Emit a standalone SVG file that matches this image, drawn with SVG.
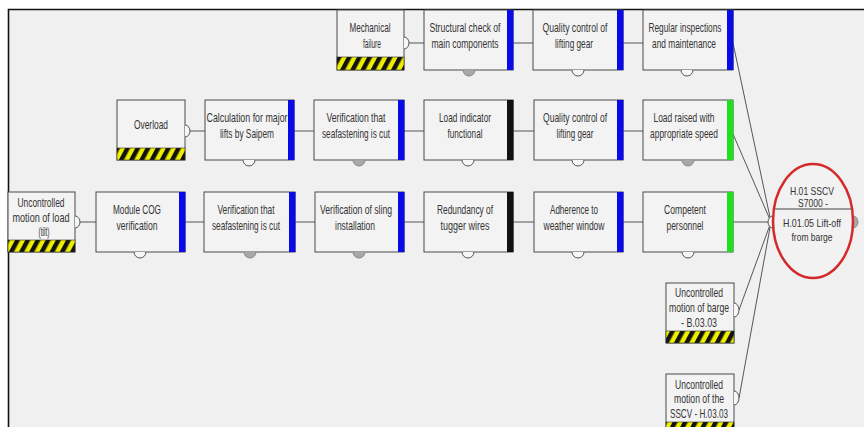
<svg xmlns="http://www.w3.org/2000/svg" width="864" height="427" viewBox="0 0 864 427">
<defs>
<pattern id="hz" width="9" height="9" patternUnits="userSpaceOnUse" patternTransform="rotate(28)">
<rect width="9" height="9" fill="#eeee00"/>
<rect width="4.5" height="9" fill="#111"/>
</pattern>
<style>
.box{fill:#f3f3f3;stroke:#4a4a4a;stroke-width:1}
.stripe{fill:url(#hz);stroke:#333;stroke-width:0.6}
.blue{fill:#0a0ae6}
.green{fill:#22dd22}
.black{fill:#111}
.t{font-family:"Liberation Sans",Arial,sans-serif;font-size:13px;fill:#333;text-anchor:middle}
.te{font-family:"Liberation Sans",Arial,sans-serif;font-size:11px;fill:#333;text-anchor:middle}
.open{fill:#f6f6f6;stroke:#555;stroke-width:1}
.grey{fill:#a8a8a8;stroke:#888;stroke-width:1}
.conn{fill:none;stroke:#555;stroke-width:1}
</style>
</defs>
<rect width="864" height="427" fill="#ffffff"/>
<rect x="8" y="9" width="856" height="418" fill="#f0f0f0"/>
<path d="M8.5,427 V9.5 H864" fill="none" stroke="#111" stroke-width="1.6"/>

<g id="connectors">
<path class="conn" d="M409,43 H424 M513,43 H533 M623,43 H643 M733,43 L771,222"/>
<path class="conn" d="M190,131 H205 M294,131 H314 M404,131 H424 M513,131 H534 M623,131 H643 M733,134 L771,222"/>
<path class="conn" d="M80,222 H96 M185,222 H204 M295,222 H315 M404,222 H424 M513,222 H534 M623,222 H643 M733,222 H768"/>
<path class="conn" d="M739,310 L771,222 M739,398 L771,222"/>
</g>

<!-- Top row -->
<g id="threat-mechanical">
<rect class="box" x="337" y="10" width="67" height="60"/>
<rect class="stripe" x="337" y="57" width="67" height="13"/>
<path class="open" d="M404,37 A5,6 0 0 1 404,49"/>
<text class="t" x="370" y="32" textLength="41" lengthAdjust="spacingAndGlyphs">Mechanical</text>
<text class="t" x="372" y="48" textLength="18" lengthAdjust="spacingAndGlyphs">failure</text>
</g>
<g id="b-structural">
<rect class="box" x="424" y="10" width="89" height="60"/>
<rect class="blue" x="507" y="10" width="6.5" height="60"/>
<path class="grey" d="M463,70 A6,6 0 0 0 475,70"/>
<text class="t" x="465" y="32" textLength="71" lengthAdjust="spacingAndGlyphs">Structural check of</text>
<text class="t" x="465" y="48" textLength="67" lengthAdjust="spacingAndGlyphs">main components</text>
</g>
<g id="b-quality-top">
<rect class="box" x="533" y="10" width="90" height="60"/>
<rect class="blue" x="617" y="10" width="6.5" height="60"/>
<path class="open" d="M572,70 A6,6 0 0 0 584,70"/>
<text class="t" x="575" y="32" textLength="65" lengthAdjust="spacingAndGlyphs">Quality control of</text>
<text class="t" x="574" y="48" textLength="38" lengthAdjust="spacingAndGlyphs">lifting gear</text>
</g>
<g id="b-regular">
<rect class="box" x="643" y="10" width="90" height="60"/>
<rect class="blue" x="727" y="10" width="6.5" height="60"/>
<path class="open" d="M681,70 A6,6 0 0 0 693,70"/>
<text class="t" x="685" y="32" textLength="73" lengthAdjust="spacingAndGlyphs">Regular inspections</text>
<text class="t" x="684" y="48" textLength="64" lengthAdjust="spacingAndGlyphs">and maintenance</text>
</g>

<!-- Middle row -->
<g id="threat-overload">
<rect class="box" x="117" y="100" width="68" height="60"/>
<rect class="stripe" x="117" y="148" width="68" height="12"/>
<path class="open" d="M185,125 A5,6 0 0 1 185,137"/>
<text class="t" x="151" y="129" textLength="34" lengthAdjust="spacingAndGlyphs">Overload</text>
</g>
<g id="b-calculation">
<rect class="box" x="205" y="100" width="89" height="60"/>
<rect class="blue" x="288" y="100" width="6.5" height="60"/>
<path class="open" d="M243,160 A6,6 0 0 0 255,160"/>
<text class="t" x="247" y="122" textLength="81" lengthAdjust="spacingAndGlyphs">Calculation for major</text>
<text class="t" x="247" y="138" textLength="54" lengthAdjust="spacingAndGlyphs">lifts by Saipem</text>
</g>
<g id="b-seafastening-mid">
<rect class="box" x="314" y="100" width="90" height="60"/>
<rect class="blue" x="398" y="100" width="6.5" height="60"/>
<path class="grey" d="M353,160 A6,6 0 0 0 365,160"/>
<text class="t" x="356" y="122" textLength="59" lengthAdjust="spacingAndGlyphs">Verification that</text>
<text class="t" x="356" y="138" textLength="68" lengthAdjust="spacingAndGlyphs">seafastening is cut</text>
</g>
<g id="b-load-indicator">
<rect class="box" x="424" y="100" width="89" height="60"/>
<rect class="black" x="507" y="100" width="6.5" height="60"/>
<path class="open" d="M462,160 A6,6 0 0 0 474,160"/>
<text class="t" x="465" y="122" textLength="52" lengthAdjust="spacingAndGlyphs">Load indicator</text>
<text class="t" x="465" y="138" textLength="35" lengthAdjust="spacingAndGlyphs">functional</text>
</g>
<g id="b-quality-mid">
<rect class="box" x="534" y="100" width="89" height="60"/>
<rect class="blue" x="617" y="100" width="6.5" height="60"/>
<path class="open" d="M572,160 A6,6 0 0 0 584,160"/>
<text class="t" x="575" y="122" textLength="64" lengthAdjust="spacingAndGlyphs">Quality control of</text>
<text class="t" x="575" y="138" textLength="37" lengthAdjust="spacingAndGlyphs">lifting gear</text>
</g>
<g id="b-load-raised">
<rect class="box" x="643" y="100" width="90" height="60"/>
<rect class="green" x="727" y="100" width="6.5" height="60"/>
<path class="grey" d="M682,160 A6,6 0 0 0 694,160"/>
<text class="t" x="684" y="122" textLength="61" lengthAdjust="spacingAndGlyphs">Load raised with</text>
<text class="t" x="684" y="138" textLength="68" lengthAdjust="spacingAndGlyphs">appropriate speed</text>
</g>

<!-- Bottom row -->
<g id="threat-load-tilt">
<rect class="box" x="8" y="192" width="67" height="60"/>
<rect class="stripe" x="8" y="240" width="67" height="12"/>
<path class="open" d="M75,216 A5,6 0 0 1 75,228"/>
<text class="t" x="41" y="207" textLength="47" lengthAdjust="spacingAndGlyphs">Uncontrolled</text>
<text class="t" x="41" y="222" textLength="57" lengthAdjust="spacingAndGlyphs">motion of load</text>
<text class="t" x="44" y="236" textLength="11" lengthAdjust="spacingAndGlyphs">(tilt)</text>
</g>
<g id="b-module-cog">
<rect class="box" x="96" y="192" width="89" height="60"/>
<rect class="blue" x="179" y="192" width="6.5" height="60"/>
<path class="open" d="M134,252 A6,6 0 0 0 146,252"/>
<text class="t" x="137" y="214" textLength="48" lengthAdjust="spacingAndGlyphs">Module COG</text>
<text class="t" x="137" y="230" textLength="41" lengthAdjust="spacingAndGlyphs">verification</text>
</g>
<g id="b-seafastening-bot">
<rect class="box" x="204" y="192" width="91" height="60"/>
<rect class="blue" x="289" y="192" width="6.5" height="60"/>
<path class="grey" d="M244,252 A6,6 0 0 0 256,252"/>
<text class="t" x="246" y="214" textLength="57" lengthAdjust="spacingAndGlyphs">Verification that</text>
<text class="t" x="246" y="230" textLength="68" lengthAdjust="spacingAndGlyphs">seafastening is cut</text>
</g>
<g id="b-sling">
<rect class="box" x="315" y="192" width="89" height="60"/>
<rect class="blue" x="398" y="192" width="6.5" height="60"/>
<path class="grey" d="M353,252 A6,6 0 0 0 365,252"/>
<text class="t" x="356" y="214" textLength="72" lengthAdjust="spacingAndGlyphs">Verification of sling</text>
<text class="t" x="355" y="230" textLength="40" lengthAdjust="spacingAndGlyphs">installation</text>
</g>
<g id="b-redundancy">
<rect class="box" x="424" y="192" width="89" height="60"/>
<rect class="black" x="507" y="192" width="6.5" height="60"/>
<path class="open" d="M462,252 A6,6 0 0 0 474,252"/>
<text class="t" x="465" y="214" textLength="56" lengthAdjust="spacingAndGlyphs">Redundancy of</text>
<text class="t" x="465" y="230" textLength="49" lengthAdjust="spacingAndGlyphs">tugger wires</text>
</g>
<g id="b-adherence">
<rect class="box" x="534" y="192" width="89" height="60"/>
<rect class="blue" x="617" y="192" width="6.5" height="60"/>
<path class="open" d="M572,252 A6,6 0 0 0 584,252"/>
<text class="t" x="574" y="214" textLength="48" lengthAdjust="spacingAndGlyphs">Adherence to</text>
<text class="t" x="574" y="230" textLength="61" lengthAdjust="spacingAndGlyphs">weather window</text>
</g>
<g id="b-competent">
<rect class="box" x="643" y="192" width="90" height="60"/>
<rect class="green" x="727" y="192" width="6.5" height="60"/>
<path class="open" d="M682,252 A6,6 0 0 0 694,252"/>
<text class="t" x="685" y="214" textLength="42" lengthAdjust="spacingAndGlyphs">Competent</text>
<text class="t" x="685" y="230" textLength="37" lengthAdjust="spacingAndGlyphs">personnel</text>
</g>

<!-- Lower threats -->
<g id="threat-barge">
<rect class="box" x="666" y="283" width="68" height="60"/>
<rect class="stripe" x="666" y="331" width="68" height="12"/>
<path class="open" d="M734,303 A5,7 0 0 1 734,317"/>
<text class="t" x="699" y="297" textLength="48" lengthAdjust="spacingAndGlyphs">Uncontrolled</text>
<text class="t" x="699" y="312" textLength="60" lengthAdjust="spacingAndGlyphs">motion of barge</text>
<text class="t" x="699" y="327" textLength="36" lengthAdjust="spacingAndGlyphs">- B.03.03</text>
</g>
<g id="threat-sscv">
<rect class="box" x="666" y="374" width="68" height="60"/>
<rect class="stripe" x="666" y="422" width="68" height="12"/>
<path class="open" d="M734,391 A5,7 0 0 1 734,405"/>
<text class="t" x="699" y="389" textLength="48" lengthAdjust="spacingAndGlyphs">Uncontrolled</text>
<text class="t" x="699" y="403" textLength="50" lengthAdjust="spacingAndGlyphs">motion of the</text>
<text class="t" x="699" y="418" textLength="58" lengthAdjust="spacingAndGlyphs">SSCV - H.03.03</text>
</g>

<!-- Top event -->
<g id="top-event">
<path class="open" d="M773,216 A5,6 0 0 0 773,228"/>
<path class="grey" d="M853,216 A5,6 0 0 1 853,228 Z"/>
<ellipse cx="813" cy="221" rx="40" ry="57" fill="#f2f2f2" stroke="#d42a2a" stroke-width="2.5"/>
<line x1="775" y1="209" x2="851" y2="209" stroke="#444" stroke-width="1"/>
<text class="te" x="812" y="195" textLength="44" lengthAdjust="spacingAndGlyphs">H.01  SSCV</text>
<text class="te" x="813" y="207" textLength="30" lengthAdjust="spacingAndGlyphs">S7000 -</text>
<text class="te" x="812" y="227" textLength="58" lengthAdjust="spacingAndGlyphs">H.01.05  Lift-off</text>
<text class="te" x="812" y="241" textLength="41" lengthAdjust="spacingAndGlyphs">from barge</text>
</g>
</svg>
